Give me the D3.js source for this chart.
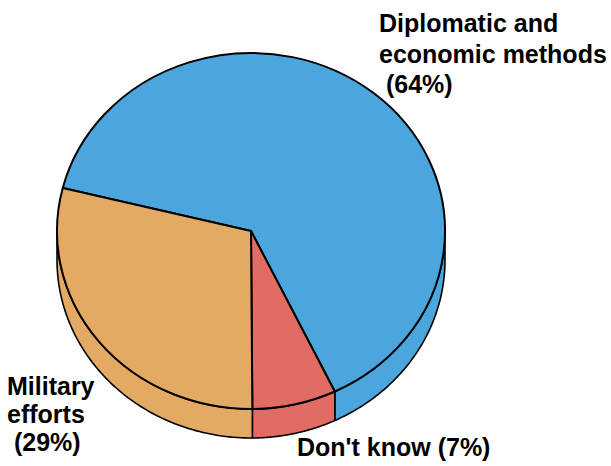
<!DOCTYPE html>
<html><head><meta charset="utf-8">
<script src="https://cdn.jsdelivr.net/npm/d3@7"></script>
<style>body{margin:0;background:#fff}svg{display:block}</style>
</head><body>
<script>
const categories = ["Diplomatic and economic methods", "Don't know", "Military efforts"];
const values = [64, 7, 29];
const colors = ["#4BA6DD", "#E06C63", "#E4AA63"];
const labelLines = [
  ["Diplomatic and", "economic methods", " (64%)"],
  ["Don't know (7%)"],
  ["Military", "efforts", " (29%)"]
];

const W = 611, H = 466;
const cx = 251, cy = 231, rx = 194, ry = 178, depth = 29;
const startDeg = -76;

const svg = d3.select("body").append("svg").attr("width", W).attr("height", H);

const pie = d3.pie().sort(null).value(d => d)
  .startAngle(startDeg * Math.PI / 180)
  .endAngle(startDeg * Math.PI / 180 + 2 * Math.PI);
const arcs = pie(values);

const pt = (a, dy = 0) => [cx + rx * Math.sin(a), cy - ry * Math.cos(a) + dy];

// side walls (front half: angles between PI/2 and 3PI/2)
const sideG = svg.append("g");
arcs.forEach((d, i) => {
  for (let k = -1; k <= 1; k++) {
    const off = k * 2 * Math.PI;
    const a0 = Math.max(d.startAngle + off, Math.PI / 2);
    const a1 = Math.min(d.endAngle + off, 3 * Math.PI / 2);
    if (a1 <= a0) continue;
    const n = 80;
    const top = d3.range(n + 1).map(j => pt(a0 + (a1 - a0) * j / n));
    const bot = top.map(p => [p[0], p[1] + depth]).reverse();
    sideG.append("path")
      .attr("d", d3.line()(top.concat(bot)) + "Z")
      .attr("fill", colors[i])
      .attr("stroke", "#000")
      .attr("stroke-width", 1.6)
      .attr("stroke-linejoin", "round");
  }
});

// top face
const arc = d3.arc().innerRadius(0).outerRadius(rx);
const topG = svg.append("g").attr("transform", `translate(${cx},${cy}) scale(1,${ry / rx})`);
topG.selectAll("path").data(arcs).join("path")
  .attr("d", arc)
  .attr("fill", (d, i) => colors[i])
  .attr("stroke", "#000")
  .attr("stroke-width", 2)
  .attr("stroke-linejoin", "round")
  .attr("vector-effect", "non-scaling-stroke");

// labels
const labelPos = [[379, 32, 30.5], [297, 456, 28], [7, 395, 28]];
const lg = svg.append("g")
  .attr("font-family", "Liberation Sans, Arial, sans-serif")
  .attr("font-weight", "bold")
  .attr("font-size", 25)
  .attr("fill", "#000");
labelLines.forEach((lines, i) => {
  const [x, y, lh] = labelPos[i];
  const t = lg.append("text").attr("x", x).attr("y", y).attr("xml:space", "preserve");
  lines.forEach((s, j) => {
    t.append("tspan").attr("x", x).attr("y", y + j * lh).text(s);
  });
});
</script>
</body></html>
